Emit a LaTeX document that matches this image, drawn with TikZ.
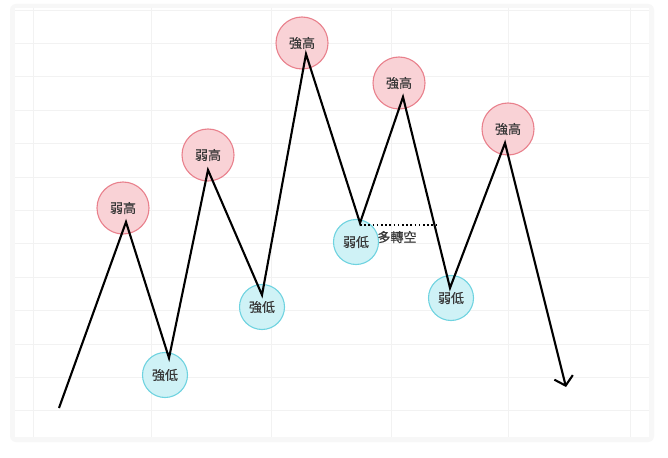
\documentclass[tikz,border=0pt]{standalone}
\usepackage{fontspec}
\newfontfamily\cjk[FakeBold=0.5]{Noto Sans CJK TC}
\usetikzlibrary{arrows.meta}
\definecolor{hifill}{HTML}{F9D2D6}
\definecolor{hidraw}{HTML}{E9808C}
\definecolor{lofill}{HTML}{CFF2F6}
\definecolor{lodraw}{HTML}{6FD3E0}
\definecolor{txt}{HTML}{383838}
\definecolor{gridc}{HTML}{F2F2F2}
\definecolor{cardedge}{HTML}{F7F7F7}
\tikzset{
  hinode/.style={circle, draw=hidraw, fill=hifill, line width=1.1pt, minimum size=52pt, inner sep=0pt, font=\cjk\fontsize{13}{13}\selectfont, text=txt},
  lonode/.style={circle, draw=lodraw, fill=lofill, line width=1.1pt, minimum size=45pt, inner sep=0pt, font=\cjk\fontsize{13}{13}\selectfont, text=txt},
  wave/.style={line width=2.1pt, black, line join=miter, -{Straight Barb[length=8.5pt,width=19pt,line width=2.1pt]}},
  turn/.style={line width=1.6pt, black, dash pattern=on 1.6pt off 2.6pt},
  lbl/.style={font=\cjk\fontsize{13}{13}\selectfont, text=txt, inner sep=0pt},
  gridline/.style={gridc, line width=0.8pt}
}
\begin{document}
\begin{tikzpicture}[x=1pt,y=-1pt]
\useasboundingbox (0,0) rectangle (668,457);
\fill[white] (0,0) rectangle (668,457);
% card with soft shadow
\fill[cardedge, rounded corners=6pt] (10,4) rectangle (654,442);
\fill[white] (15,8) rectangle (649,437);
% grid
\foreach \yy in {10,43.4,76.8,110.2,143.6,177,210.4,243.8,277.2,310.6,344,377.4,410.8}
  \draw[gridline] (15,\yy) -- (649,\yy);
\foreach \xx in {33,151,271,391,508,630}
  \draw[gridline] (\xx,8) -- (\xx,437);
% nodes
\node[hinode] (h1) at (123,208) {弱高};
\node[lonode] (l1) at (165,375) {強低};
\node[hinode] (h2) at (208,155) {弱高};
\node[lonode] (l2) at (262,307) {強低};
\node[hinode] (h3) at (302,43) {強高};
\node[lonode] (l3) at (356,242) {弱低};
\node[hinode] (h4) at (399,83) {強高};
\node[lonode] (l4) at (451,298) {弱低};
\node[hinode] (h5) at (508,129) {強高};
% vertices
\coordinate (s) at (59,408);
\coordinate (v1) at (126,222);
\coordinate (v2) at (169,358);
\coordinate (v3) at (208,170);
\coordinate (v4) at (262,295);
\coordinate (v5) at (306,54);
\coordinate (v6) at (360,223);
\coordinate (v7) at (403,97);
\coordinate (v8) at (450,288);
\coordinate (v9) at (505,143);
\coordinate (e) at (566,387);
\coordinate (d) at (438,225);
\draw[wave] (s) -- (v1) -- (v2) -- (v3) -- (v4) -- (v5) -- (v6) -- (v7) -- (v8) -- (v9) -- (e);
\draw[turn] (v6) ++(0,2) -- (d);
\node[lbl] (t) at (397,237) {多轉空};
\end{tikzpicture}
\end{document}
